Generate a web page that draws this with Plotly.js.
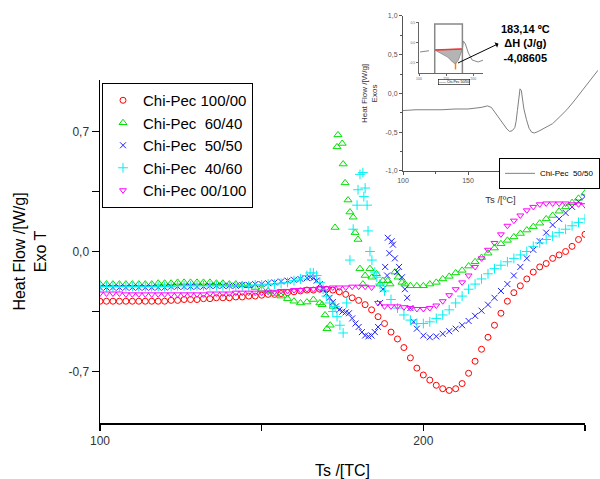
<!DOCTYPE html>
<html>
<head>
<meta charset="utf-8">
<script src="https://cdn.plot.ly/plotly-3.0.1.min.js"></script>
<style>html,body{margin:0;padding:0;background:#fff;}#chart{width:600px;height:479px;}</style>
</head>
<body>
<div id="chart"></div>
<script>
// ---- Main chart data (temperature in °C, heat flow in W/g) ----
const redT = [100,102,104,106,108,110,112,114,116,118,120,122,124,126,128,130,132,134,136,138,140,142,144,146,148,150,152,154,156,158,160,162,164,166,168,170,172,174,176,178,180,182,184,186,188,190,192,194,196,198,200,202,204,206,208,210,212,214,216,218,220,222,224,226,228,230,232,234,236,238,240,242,244,246,248,250];
const redV = [-0.29,-0.29,-0.29,-0.29,-0.29,-0.29,-0.29,-0.29,-0.29,-0.29,-0.29,-0.285,-0.285,-0.28,-0.28,-0.28,-0.275,-0.275,-0.27,-0.27,-0.27,-0.265,-0.265,-0.26,-0.26,-0.255,-0.25,-0.25,-0.245,-0.24,-0.235,-0.23,-0.225,-0.225,-0.22,-0.22,-0.225,-0.235,-0.25,-0.27,-0.285,-0.31,-0.34,-0.38,-0.42,-0.47,-0.51,-0.56,-0.62,-0.68,-0.72,-0.75,-0.78,-0.80,-0.81,-0.80,-0.77,-0.71,-0.64,-0.57,-0.50,-0.43,-0.36,-0.29,-0.24,-0.20,-0.16,-0.12,-0.09,-0.07,-0.04,-0.02,0.00,0.03,0.07,0.10];

const greenT = [100,102,104,106,108,110,112,114,116,118,120,122,124,126,128,130,132,134,136,138,140,142,144,146,148,150,152,154,156,158,160,162,164,166,168,168.7,169.6,170.2,171.2,172.1,172.7,173.3,173.6,174.9,175.2,175.8,176.7,177.3,178.3,178.9,179.8,180.4,181.3,182,183.5,184.1,185.5,186.6,187.5,189,189.7,191.2,192.2,193.4,194.3,196,198,200,202,204,206,208,210,212,214,216,218,220,222,224,226,228,230,232,234,236,238,240,242,244,246,248,250];
const greenV = [-0.19,-0.19,-0.19,-0.19,-0.19,-0.19,-0.19,-0.19,-0.19,-0.185,-0.185,-0.185,-0.18,-0.18,-0.18,-0.18,-0.18,-0.18,-0.185,-0.185,-0.19,-0.19,-0.195,-0.20,-0.21,-0.22,-0.23,-0.245,-0.26,-0.275,-0.29,-0.30,-0.295,-0.28,-0.30,-0.31,-0.37,-0.45,-0.43,-0.32,0.14,0.61,0.68,0.63,0.51,0.40,0.30,0.23,0.20,0.11,0.07,-0.10,-0.19,-0.14,-0.10,-0.15,-0.13,-0.19,-0.17,-0.17,-0.19,-0.12,-0.15,-0.18,-0.19,-0.20,-0.20,-0.20,-0.19,-0.18,-0.16,-0.145,-0.125,-0.11,-0.085,-0.06,-0.035,-0.01,0.02,0.045,0.065,0.085,0.105,0.125,0.145,0.165,0.19,0.21,0.235,0.26,0.285,0.31,0.34];

const blueT = [100,102,104,106,108,110,112,114,116,118,120,122,124,126,128,130,132,134,136,138,140,142,144,146,148,150,152,154,156,158,160,162,164,165,166,167,168,169,170,171,172,173,174,175,176,177,178,179,180,181,182,183,184,185,186,186.6,187.5,188.2,188.8,189,189.5,190.2,190.6,191.2,191.9,192.5,193.4,194.3,195,196,197,198,200,202,204,206,208,210,212,214,216,218,220,222,224,226,228,230,232,234,236,238,240,242,244,246,248,250];
const blueV = [-0.21,-0.21,-0.21,-0.21,-0.21,-0.21,-0.21,-0.21,-0.21,-0.21,-0.21,-0.205,-0.205,-0.205,-0.205,-0.205,-0.205,-0.20,-0.20,-0.20,-0.20,-0.20,-0.195,-0.195,-0.19,-0.19,-0.185,-0.18,-0.175,-0.17,-0.165,-0.16,-0.155,-0.15,-0.155,-0.17,-0.19,-0.22,-0.245,-0.27,-0.295,-0.32,-0.34,-0.35,-0.355,-0.36,-0.39,-0.42,-0.44,-0.47,-0.49,-0.495,-0.49,-0.47,-0.44,-0.30,-0.22,-0.09,-0.14,0.08,-0.01,0.06,0.04,-0.04,-0.12,-0.09,-0.15,-0.22,-0.27,-0.33,-0.41,-0.45,-0.49,-0.50,-0.495,-0.48,-0.465,-0.45,-0.43,-0.405,-0.375,-0.345,-0.31,-0.27,-0.23,-0.19,-0.14,-0.09,-0.04,0.01,0.06,0.11,0.155,0.19,0.225,0.26,0.29,0.32];

const cyanT = [100,102,104,106,108,110,112,114,116,118,120,122,124,126,128,130,132,134,136,138,140,142,144,146,148,150,152,154,156,158,160,162,164,165,166,167,168,169,170,171,172,172.7,173.3,174.2,175.2,176.3,177.3,178.3,179.5,179.8,180.4,181.3,181.6,182,182.6,182.9,183.5,184.1,185,185.6,186.6,188,190,192,194,196,198,200,202,204,206,208,210,212,214,216,218,220,222,224,226,228,230,232,234,236,238,240,242,244,246,248,250];
const cyanV = [-0.205,-0.205,-0.205,-0.205,-0.205,-0.205,-0.205,-0.205,-0.205,-0.205,-0.205,-0.205,-0.2,-0.2,-0.2,-0.2,-0.2,-0.2,-0.2,-0.2,-0.2,-0.2,-0.2,-0.2,-0.195,-0.195,-0.19,-0.19,-0.185,-0.18,-0.17,-0.16,-0.14,-0.125,-0.125,-0.14,-0.18,-0.22,-0.26,-0.30,-0.35,-0.32,-0.38,-0.43,-0.475,-0.30,-0.05,0.13,0.27,0.36,0.45,0.46,0.32,0.37,0.27,0.12,0.00,-0.05,-0.12,-0.15,-0.19,-0.23,-0.28,-0.33,-0.37,-0.40,-0.42,-0.42,-0.41,-0.39,-0.37,-0.34,-0.30,-0.26,-0.22,-0.19,-0.16,-0.13,-0.10,-0.08,-0.06,-0.04,-0.02,0.00,0.03,0.05,0.07,0.09,0.11,0.13,0.15,0.17,0.19];

const magT = [100,102,104,106,108,110,112,114,116,118,120,122,124,126,128,130,132,134,136,138,140,142,144,146,148,150,152,154,156,158,160,162,164,166,168,170,172,174,176,178,180,182,184,186,188,190,192,194,196,198,200,202,204,206,208,210,212,214,216,218,220,222,224,226,228,230,232,234,236,238,240,242,244,246,248,250];
const magV = [-0.245,-0.245,-0.245,-0.245,-0.25,-0.25,-0.25,-0.25,-0.25,-0.25,-0.25,-0.25,-0.25,-0.25,-0.25,-0.25,-0.25,-0.245,-0.245,-0.245,-0.245,-0.24,-0.24,-0.24,-0.24,-0.24,-0.235,-0.235,-0.23,-0.23,-0.225,-0.225,-0.22,-0.22,-0.215,-0.215,-0.21,-0.21,-0.21,-0.205,-0.205,-0.205,-0.21,-0.30,-0.32,-0.32,-0.32,-0.325,-0.33,-0.335,-0.335,-0.33,-0.315,-0.29,-0.255,-0.22,-0.18,-0.14,-0.09,-0.04,0.01,0.05,0.10,0.15,0.18,0.21,0.24,0.26,0.275,0.28,0.28,0.28,0.28,0.275,0.275,0.27];

const seriesNames = ['Chi-Pec 100/00','Chi-Pec\u00a0\u00a060/40','Chi-Pec\u00a0\u00a050/50','Chi-Pec\u00a0\u00a040/60','Chi-Pec 00/100'];

// ---- Inset data (Chi-Pec 50/50 DSC curve) ----
const insetT = [100,110,120,130,140,150,160,165,168,171,174,177,180,182,184,186,187,188,189,190,191,192,193,195,197,199,201,204,207,211,215,220,226,231,236,241,246,250];
const insetV = [-0.22,-0.21,-0.21,-0.21,-0.20,-0.20,-0.18,-0.16,-0.18,-0.25,-0.32,-0.40,-0.46,-0.49,-0.48,-0.44,-0.36,-0.22,-0.06,0.06,0.04,-0.08,-0.20,-0.34,-0.45,-0.50,-0.51,-0.49,-0.46,-0.43,-0.39,-0.31,-0.21,-0.11,0.00,0.11,0.22,0.30];

// ---- Sub-inset (peak integration) data ----
const subLeftT = [102,129];
const subLeftV = [-0.225,-0.175];
const subFillT = [129,140,152.7,161.8,167.3,172.7,178.2,180,129];
const subFillV = [-0.175,-0.25,-0.35,-0.475,-0.525,-0.425,-0.225,-0.15,-0.175];
const subBaseT = [129,180];
const subBaseV = [-0.175,-0.15];
const subRightT = [180,181.8,185.5,191,198,209,218];
const subRightV = [-0.15,0.05,-0.025,-0.25,-0.425,-0.475,-0.43];
const subBoxT = [129,129,180,180];
const subBoxV = [-0.75,0.475,0.475,-0.75];
const subMinT = [167.3];
const subMinV = [-0.575];

const FONT = 'Liberation Sans, Arial, sans-serif';

const traces = [
  {x: redT, y: redV, name: seriesNames[0], mode: 'markers', type: 'scatter',
   marker: {symbol: 'circle-open', size: 6, color: '#ff0000', line: {width: 1}}},
  {x: greenT, y: greenV, name: seriesNames[1], mode: 'markers', type: 'scatter',
   marker: {symbol: 'triangle-up-open', size: 7, color: '#00e000', line: {width: 1}}},
  {x: blueT, y: blueV, name: seriesNames[2], mode: 'markers', type: 'scatter',
   marker: {symbol: 'x-thin-open', size: 6, color: '#2020ff', line: {width: 1}}},
  {x: cyanT, y: cyanV, name: seriesNames[3], mode: 'markers', type: 'scatter',
   marker: {symbol: 'cross-thin-open', size: 7, color: '#00f0f0', line: {width: 1}}},
  {x: magT, y: magV, name: seriesNames[4], mode: 'markers', type: 'scatter',
   marker: {symbol: 'triangle-down-open', size: 6, color: '#ff00ff', line: {width: 1}}},
  // inset
  {x: insetT, y: insetV, name: 'Chi-Pec\u00a0\u00a050/50', xaxis: 'x2', yaxis: 'y2', mode: 'lines', type: 'scatter',
   line: {color: '#808080', width: 1}, legend: 'legend2'},
  // sub-inset
  {x: subLeftT, y: subLeftV, xaxis: 'x3', yaxis: 'y3', mode: 'lines', showlegend: false,
   line: {color: '#888', width: 1, dash: 'dash'}},
  {x: subFillT, y: subFillV, xaxis: 'x3', yaxis: 'y3', mode: 'lines', fill: 'toself', showlegend: false,
   fillcolor: '#b4b4b4', line: {color: '#888', width: 0.8}},
  {x: subBaseT, y: subBaseV, xaxis: 'x3', yaxis: 'y3', mode: 'lines', showlegend: false,
   line: {color: '#ff3030', width: 1.5}},
  {x: subRightT, y: subRightV, xaxis: 'x3', yaxis: 'y3', mode: 'lines', showlegend: false,
   line: {color: '#888', width: 1}},
  {x: subBoxT, y: subBoxV, xaxis: 'x3', yaxis: 'y3', mode: 'lines', showlegend: false,
   line: {color: '#888', width: 1.5}},
  {x: subMinT, y: subMinV, xaxis: 'x3', yaxis: 'y3', mode: 'markers', showlegend: false,
   marker: {symbol: 'line-ns', size: 5, color: '#ff8000', line: {width: 1.5, color: '#ff8000'}}}
];

const layout = {
  width: 600, height: 479,
  margin: {l: 100, r: 0, t: 10, b: 56, autoexpand: false},
  paper_bgcolor: '#fff', plot_bgcolor: 'rgba(0,0,0,0)',
  font: {family: FONT, color: '#000'},
  showlegend: true,
  xaxis: {domain: [0, 0.97], range: [100, 250], anchor: 'y', showline: true, linecolor: '#000', linewidth: 1.5,
          ticks: 'outside', ticklen: 6, tickwidth: 1.5, tickcolor: '#000',
          tickvals: [100,150,200,250], ticktext: ['100','','200',''],
          tickfont: {size: 12, color: '#333', family: FONT},
          showgrid: false, zeroline: false, automargin: false,
          title: {text: 'Ts /[TC]', font: {size: 16, family: FONT, color: '#000'}, standoff: 18}},
  yaxis: {domain: [0, 0.8305], range: [-1, 1], anchor: 'x', showline: true, linecolor: '#000', linewidth: 1.5,
          ticks: 'outside', ticklen: 7, tickwidth: 1.5, tickcolor: '#000',
          tickvals: [-0.7,-0.35,0,0.35,0.7], ticktext: ['-0,7','','0,0','','0,7'],
          tickfont: {size: 12, color: '#333', family: FONT},
          showgrid: false, zeroline: false, automargin: false,
          title: {text: 'Heat Flow /[W/g]<br>Exo T', font: {size: 16, family: FONT, color: '#000'}, standoff: 18}},
  xaxis2: {domain: [0.606, 0.996], range: [100, 250], anchor: 'y2', showline: true, linecolor: '#555', linewidth: 1,
           ticks: 'outside', ticklen: 3, tickcolor: '#555',
           tickvals: [100,150,200,250], ticktext: ['100','150','200','250'],
           minor: {tickvals: [125,175,225], ticks: 'outside', ticklen: 2, tickcolor: '#555'},
           tickfont: {size: 7, color: '#555', family: FONT}, showgrid: false, zeroline: false, automargin: false,
           title: {text: 'Ts /[ºC]', font: {size: 9.5, family: FONT, color: '#333'}, standoff: 12}},
  yaxis2: {domain: [0.6102, 0.9855], range: [-1, 1], anchor: 'x2', showline: true, linecolor: '#555', linewidth: 1,
           ticks: 'outside', ticklen: 3, tickcolor: '#555',
           tickvals: [-1,-0.5,0,0.5,1], ticktext: ['-1,0','-0,5','0,0','0,5','1,0'],
           minor: {tickvals: [-0.75,-0.25,0.25,0.75], ticks: 'outside', ticklen: 2, tickcolor: '#555'},
           tickfont: {size: 7, color: '#555', family: FONT}, showgrid: false, zeroline: false, automargin: false,
           title: {text: 'Heat Flow /[W/g]<br>Exos', font: {size: 8, family: FONT, color: '#333'}, standoff: 6}},
  xaxis3: {domain: [0.638, 0.766], range: [100, 218], anchor: 'y3', showline: true, linecolor: '#666', linewidth: 1,
           ticks: 'outside', ticklen: 2, tickcolor: '#666',
           tickvals: [100,150,200], ticktext: ['100','150','200'],
           tickfont: {size: 3.5, color: '#666', family: FONT}, showgrid: false, zeroline: false, automargin: false},
  yaxis3: {domain: [0.8475, 0.971], range: [-0.75, 0.525], anchor: 'x3', showline: true, linecolor: '#666', linewidth: 1,
           ticks: 'outside', ticklen: 2, tickcolor: '#666',
           tickvals: [-0.5,0,0.5], ticktext: ['-0,5','0,0','0,5'],
           tickfont: {size: 3.5, color: '#666', family: FONT}, showgrid: false, zeroline: false, automargin: false},
  legend: {x: 0.004, y: 0.8232, xanchor: 'left', yanchor: 'top', bgcolor: '#fff',
           bordercolor: '#000', borderwidth: 1, font: {size: 15, family: FONT, color: '#000'}, tracegroupgap: 0},
  legend2: {x: 1, y: 0.642, xanchor: 'right', yanchor: 'top', bgcolor: '#fff', itemwidth: 30,
            bordercolor: '#000', borderwidth: 1, font: {size: 8, family: FONT, color: '#000'}},
  annotations: [
    {xref: 'paper', yref: 'paper', x: 0.85, y: 0.92, xanchor: 'center', yanchor: 'middle', showarrow: false,
     text: '<b>183,14 ºC<br>ΔH (J/g)<br>-4,08605</b>', font: {size: 11, family: FONT, color: '#000'}},
    {xref: 'x3', yref: 'y3', x: 171.9, y: -0.5, ax: 42, ay: -20, text: '', showarrow: true,
     arrowside: 'start', arrowhead: 2, arrowsize: 1, arrowwidth: 1, arrowcolor: '#000'},
    {xref: 'paper', yref: 'paper', x: 0.707, y: 0.8257, xanchor: 'center', yanchor: 'middle', showarrow: false,
     text: '—— Chi-Pec 50/50', font: {size: 3.5, family: FONT, color: '#000'},
     bordercolor: '#000', borderwidth: 0.6, borderpad: 0.5, bgcolor: '#fff'}
  ]
};

Plotly.newPlot('chart', traces, layout, {staticPlot: true, displayModeBar: false});
</script>
</body>
</html>
